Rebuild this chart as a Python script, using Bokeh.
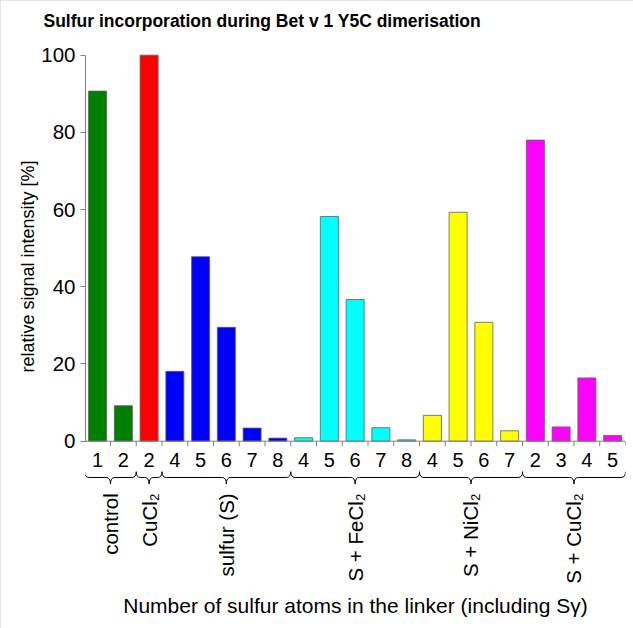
import numpy as np
from bokeh.plotting import figure
from bokeh.models import FixedTicker, Range1d, ColumnDataSource, Title
from bokeh.core.properties import value
from bokeh.embed import file_html
from bokeh.resources import INLINE

# ---- data ----
groups = ["control", "CuCl₂", "sulfur (S)", "S + FeCl₂", "S + NiCl₂", "S + CuCl₂"]
group_colors = ["#008000", "#ff0000", "#0000ff", "#00ffff", "#ffff00", "#ff00ff"]
atoms_control = [1, 2]
atoms_cucl2 = [2]
atoms_sulfur = [4, 5, 6, 7, 8]
atoms_fecl2 = [4, 5, 6, 7, 8]
atoms_nicl2 = [4, 5, 6, 7]
atoms_s_cucl2 = [2, 3, 4, 5]
int_control = [90.7, 9.2]
int_cucl2 = [100.0]
int_sulfur = [18.1, 47.8, 29.5, 3.4, 0.8]
int_fecl2 = [0.9, 58.2, 36.7, 3.5, 0.35]
int_nicl2 = [6.7, 59.3, 30.8, 2.7]
int_s_cucl2 = [78.0, 3.7, 16.4, 1.5]
y_ticks = [0, 20, 40, 60, 80, 100]

atoms = [atoms_control, atoms_cucl2, atoms_sulfur, atoms_fecl2, atoms_nicl2, atoms_s_cucl2]
ints = [int_control, int_cucl2, int_sulfur, int_fecl2, int_nicl2, int_s_cucl2]

FONT = "Liberation Sans"

xs, tops, colors, labels = [], [], [], []
starts, ends = [], []
i = 0
for a, v, c in zip(atoms, ints, group_colors):
    starts.append(i - 0.5)
    for aa, vv in zip(a, v):
        xs.append(i)
        tops.append(vv)
        colors.append(c)
        labels.append(str(aa))
        i += 1
    ends.append(i - 0.5)
n = len(xs)
x_lo, x_hi = -0.47, n - 0.5

p = figure(width=633, height=628, output_backend="svg", toolbar_location=None,
           x_range=Range1d(x_lo, x_hi), y_range=Range1d(-46.45, 103.8),
           min_border_left=85, min_border_right=8, min_border_top=40, min_border_bottom=8,
           x_axis_location=None)
p.outline_line_color = None
p.grid.visible = False
p.styles = {"outline": "3px solid #dcdcdc", "outline-offset": "-3px"}

p.title.text = "Sulfur incorporation during Bet v 1 Y5C dimerisation"
p.title.text_font = FONT
p.title.text_font_size = "17.5px"
p.title.text_font_style = "bold"
p.title.text_color = "black"
p.title.align = "left"
p.title.offset = -42
p.title.vertical_align = "top"
p.title.standoff = 16

ya = p.yaxis[0]
ya.ticker = FixedTicker(ticks=y_ticks)
ya.bounds = (0, 100)
ya.axis_line_color = "#808080"
ya.major_tick_line_color = "#808080"
ya.major_tick_out = 5
ya.major_tick_in = 0
ya.minor_tick_line_color = None
ya.major_label_text_font = FONT
ya.major_label_text_font_size = "20.5px"
ya.major_label_text_color = "black"
ya.major_label_standoff = 5

ylab = Title(text="relative signal intensity [%]", align="left", offset=248,
             text_font=FONT, text_font_size="18px", text_font_style="normal",
             text_color="black", standoff=2)
p.add_layout(ylab, "left")

src = ColumnDataSource(dict(x=xs, top=tops, color=colors, label=labels))
p.vbar(x="x", top="top", width=0.7, bottom=0, fill_color="color",
       line_color="#606060", line_width=1, line_alpha=0.8, source=src)

# x axis baseline and ticks between bars
p.segment(x0=[x_lo], y0=[0], x1=[x_hi], y1=[0], line_color="#808080", line_width=1)
bx = [k + 0.5 for k in range(n)]
p.segment(x0=bx, y0=[0] * n, x1=bx, y1=[-1.3] * n, line_color="#808080", line_width=1)

# tick labels
p.text(x="x", y=-4.8, text="label", source=src, text_font=value(FONT),
       text_font_size="20px", text_align="center", text_baseline="middle", text_color="black")

# braces
y_top, y_mid, y_tip, r = -7.9, -9.4, -11.1, 0.17
qx0, qy0, qx1, qy1, qcx, qcy = [], [], [], [], [], []
sx0, sx1 = [], []
for s, e in zip(starts, ends):
    c = (s + e) / 2
    qx0 += [s, c - r, c, e - r]
    qy0 += [y_top, y_mid, y_tip, y_mid]
    qx1 += [s + r, c, c + r, e]
    qy1 += [y_mid, y_tip, y_mid, y_top]
    qcx += [s, c, c, e]
    qcy += [y_mid, y_mid, y_mid, y_mid]
    sx0 += [s + r, c + r]
    sx1 += [c - r, e - r]
p.quadratic(x0=qx0, y0=qy0, x1=qx1, y1=qy1, cx=qcx, cy=qcy, line_color="black", line_width=1)
p.segment(x0=sx0, y0=[y_mid] * len(sx0), x1=sx1, y1=[y_mid] * len(sx1), line_color="black", line_width=1)

# group labels
gx = [(s + e) / 2 for s, e in zip(starts, ends)]
p.text(x=gx, y=[-13.5] * len(gx), text=groups, angle=np.pi / 2, text_font=value(FONT),
       text_font_size="20.5px", text_align="right", text_baseline="middle", text_color="black")

# x axis title
p.text(x=[(x_lo + x_hi) / 2], y=[-42.6], text=["Number of sulfur atoms in the linker (including Sγ)"],
       text_font=value(FONT), text_font_size="21px", text_align="center", text_baseline="middle",
       text_color="black")

open("out.html", "w").write(file_html(p, INLINE))
